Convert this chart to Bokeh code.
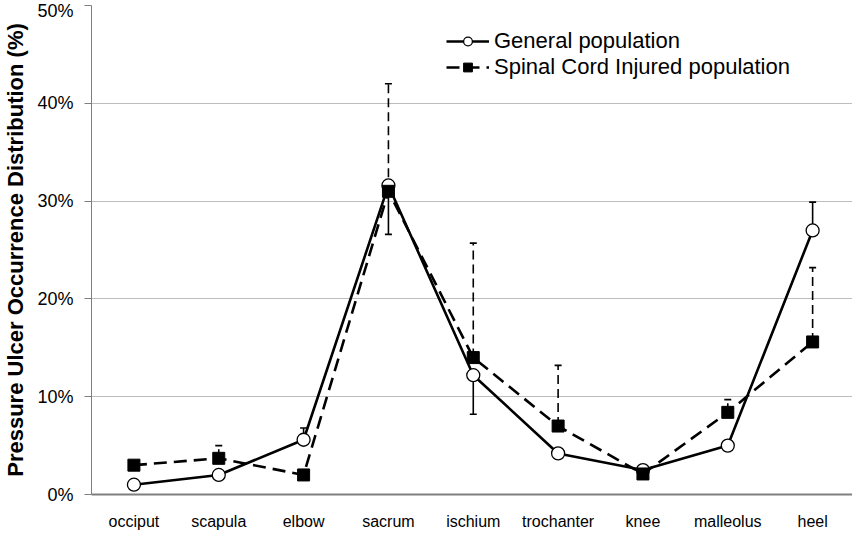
from bokeh.plotting import figure
from bokeh.models import Range1d, Legend, LegendItem, FixedTicker
from bokeh.embed import file_html
from bokeh.resources import INLINE

categories = ["occiput", "scapula", "elbow", "sacrum", "ischium", "trochanter", "knee", "malleolus", "heel"]
general = [1.0, 2.0, 5.6, 31.6, 12.2, 4.2, 2.5, 5.0, 27.0]
sci = [3.0, 3.7, 2.0, 31.0, 14.0, 7.0, 2.1, 8.4, 15.6]
general_err_up = [0, 0, 1.2, 0, 0, 0, 0, 0, 2.9]
general_err_down = [0, 0, 0, 5.0, 4.0, 0, 0, 0, 0]
sci_err_up = [0, 1.3, 0, 11.0, 11.7, 6.2, 0, 1.3, 7.6]
sci_err_down = [0, 0, 0, 0, 0, 0, 0, 0, 0]
y_ticks = [0, 10, 20, 30, 40, 50]

FONT = "Liberation Sans"
xs = list(range(len(categories)))

p = figure(width=852, height=533, output_backend="svg", toolbar_location=None,
           x_range=Range1d(-0.5, 8.47), y_range=Range1d(0, 50),
           min_border_left=91, min_border_right=0, min_border_top=5, min_border_bottom=39)
p.outline_line_color = None
p.background_fill_color = "white"

# axes
p.xaxis.ticker = FixedTicker(ticks=xs)
p.xaxis.major_label_overrides = {i: c for i, c in enumerate(categories)}
p.xaxis.major_tick_line_color = None
p.xaxis.minor_tick_line_color = None
p.xaxis.axis_line_color = "#7f7f7f"
p.xaxis.axis_line_width = 2
p.xaxis.major_label_text_font = FONT
p.xaxis.major_label_text_font_size = "16px"
p.xaxis.major_label_text_color = "black"
p.xaxis.major_label_standoff = 12

p.yaxis.ticker = FixedTicker(ticks=y_ticks)
p.yaxis.major_label_overrides = {t: f"{t}%" for t in y_ticks}
p.yaxis.axis_line_color = "#7f7f7f"
p.yaxis.axis_line_width = 1
p.yaxis.major_tick_line_color = "#7f7f7f"
p.yaxis.major_tick_out = 7
p.yaxis.major_tick_in = 0
p.yaxis.minor_tick_line_color = None
p.yaxis.major_label_text_font = FONT
p.yaxis.major_label_text_font_size = "18px"
p.yaxis.major_label_text_color = "black"
p.yaxis.major_label_standoff = 11
p.yaxis.axis_label = "Pressure Ulcer Occurrence Distribution (%)"
p.yaxis.axis_label_text_font = FONT
p.yaxis.axis_label_text_font_style = "bold"
p.yaxis.axis_label_text_font_size = "22px"
p.yaxis.axis_label_text_color = "black"
p.yaxis.axis_label_standoff = 6

p.xgrid.grid_line_color = None
p.ygrid.grid_line_color = "#bdbdbd"
p.ygrid.grid_line_width = 1

# error bars (one-sided, as drawn in the source)
def errbars(vals, up, down, dash):
    x0, y0, y1 = [], [], []
    for i, (v, u, d) in enumerate(zip(vals, up, down)):
        if u > 0:
            x0.append(i); y0.append(v); y1.append(v + u)
        if d > 0:
            x0.append(i); y0.append(v); y1.append(v - d)
    p.segment(x0=x0, y0=y0, x1=x0, y1=y1, line_color="black", line_width=1.6, line_dash=dash)
    p.scatter(x=x0, y=y1, marker="dash", size=7, line_color="black", line_width=1.6)

errbars(general, general_err_up, general_err_down, "solid")
errbars(sci, sci_err_up, sci_err_down, "9 5")

gl = p.line(xs, general, line_color="black", line_width=2.6)
gm = p.scatter(xs, general, marker="circle", size=13, fill_color="white", line_color="black", line_width=1.3)
sl = p.line(xs, sci, line_color="black", line_width=2.6, line_dash="13 7")
sm = p.scatter(xs, sci, marker="square", size=12, fill_color="black", line_color="black")

legend = Legend(items=[LegendItem(label="General population", renderers=[gl, gm]),
                       LegendItem(label="Spinal Cord Injured population", renderers=[sl, sm])],
                location=(355, 414), orientation="vertical")
legend.border_line_color = None
legend.background_fill_alpha = 0
legend.label_text_font = FONT
legend.label_text_font_size = "22px"
legend.label_text_color = "black"
legend.glyph_width = 43
legend.glyph_height = 22
legend.label_height = 22
legend.label_standoff = 5
legend.spacing = 0
legend.padding = 0
legend.margin = 0
p.add_layout(legend, "center")

open("out.html", "w").write(file_html(p, INLINE))
